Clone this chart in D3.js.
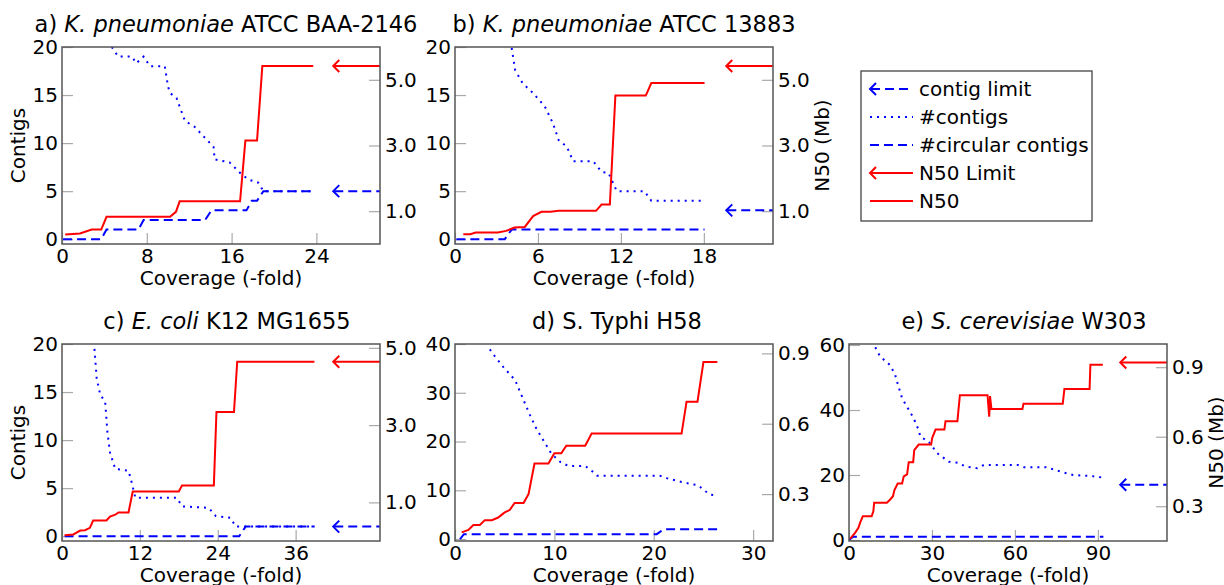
<!DOCTYPE html>
<html>
  <head>
    <title>Contigs and N50 versus coverage</title>
    <script src="https://d3js.org/d3.v7.min.js"></script>
    <style>
      body { margin: 0; background: #fff; }
      text { font-family: "DejaVu Sans", sans-serif; fill: #000; }
    </style>
  </head>
  <body>
    <svg id="chart" width="1224" height="585"></svg>
    <script>
      // [coverage, value] pairs
      let aN50 = [[0.3,0.29],[1.7,0.32],[2.8,0.44],[3.7,0.44],[4.2,0.83],[10.2,0.83],[10.75,0.98],[11.1,1.3],[16.8,1.3],[17.3,3.15],[18.4,3.15],[18.9,5.42],[23.7,5.42]];
      let aContigs = [[4.7,20],[5.3,19],[6.6,19],[7.0,18.3],[7.7,19],[8.3,18],[9.7,18],[10.0,15.9],[10.2,15.2],[10.8,14.7],[11.6,12.3],[12.5,11.7],[14.3,9.6],[14.4,8.3],[15.8,8.0],[16.8,6.9],[17.6,6.2],[18.5,5.9],[19.0,5],[23.7,5]];
      let aCircular = [[0.1,0],[3.7,0],[4.2,1],[7.2,1],[7.7,2],[13.5,2],[14.1,3],[17.4,3],[17.9,4],[18.4,4],[19.0,5],[23.7,5]];

      let bN50 = [[0.6,0.3],[1.1,0.3],[1.5,0.35],[3.1,0.35],[3.7,0.4],[4.3,0.5],[5.05,0.52],[5.65,0.85],[6.25,0.98],[6.9,0.98],[7.5,1.01],[10.2,1.01],[10.6,1.2],[11.2,1.2],[11.6,4.52],[13.8,4.52],[14.2,4.9],[18.05,4.9]];
      let bContigs = [[4.1,19.9],[4.35,17.6],[4.9,16.2],[5.65,15.2],[6.5,13.8],[7.1,12.0],[7.5,10.3],[8.1,9.6],[8.55,8.1],[10.0,8.1],[10.6,7.0],[11.1,6.9],[11.7,5],[13.7,5],[14.2,4],[18.05,4]];
      let bCircular = [[0.1,0],[3.6,0],[4.1,1],[18.05,1]];

      let cN50 = [[0.4,0.15],[1.75,0.17],[2.8,0.27],[3.55,0.28],[4.3,0.34],[4.8,0.53],[6.85,0.53],[7.4,0.63],[8.2,0.68],[8.7,0.74],[10.25,0.74],[10.9,1.28],[18.0,1.28],[18.5,1.44],[23.4,1.44],[23.8,3.34],[26.5,3.34],[27.0,4.64],[38.9,4.64]];
      let cContigs = [[5.0,19.5],[5.35,16.4],[5.9,14.7],[6.65,14.0],[7.0,10.8],[7.4,8.7],[8.2,7.0],[10.25,6.8],[10.7,5.7],[11.3,4],[17.7,4],[18.5,3.1],[22.6,2.95],[23.7,2.1],[26.0,1.9],[26.75,1],[38.9,1]];
      let cCircular = [[0.4,0],[27.3,0],[28.3,1],[38.9,1]];

      let dN50 = [[0.67,0.137],[1.35,0.147],[1.85,0.168],[2.5,0.168],[3.0,0.189],[3.7,0.189],[4.35,0.2],[5.0,0.222],[5.5,0.232],[6.0,0.262],[6.9,0.262],[7.4,0.3],[8.0,0.43],[9.4,0.43],[10.0,0.474],[10.7,0.474],[11.2,0.506],[13.1,0.506],[13.75,0.558],[22.8,0.558],[23.3,0.694],[24.4,0.694],[25.0,0.863],[26.4,0.863]];
      let dContigs = [[3.5,38.9],[4.0,37.5],[4.85,35.3],[6.05,32.6],[6.9,28.5],[7.55,25.4],[8.2,22.6],[8.9,20.2],[9.7,17.5],[10.6,15.8],[11.4,15],[13.1,15],[13.75,14],[14.3,13],[20.6,13],[21.3,12.5],[22.8,11.7],[24.5,11],[25.2,9.8],[25.7,9.1],[26.4,8.9]];
      let dCircular = [[0.5,0],[0.9,1],[20.3,1],[21.0,2],[26.4,2]];

      let eN50 = [[0.36,0.159],[2.2,0.185],[3.4,0.207],[4.0,0.228],[5.0,0.257],[8.2,0.257],[8.8,0.278],[9.1,0.315],[13.7,0.315],[14.9,0.329],[15.9,0.343],[16.4,0.369],[17.6,0.398],[19.2,0.398],[19.8,0.429],[21.0,0.437],[21.6,0.49],[23.2,0.49],[23.6,0.542],[25.2,0.566],[29.7,0.566],[30.1,0.595],[31.3,0.631],[34.5,0.631],[34.9,0.667],[39.2,0.667],[40.1,0.779],[50.1,0.779],[50.7,0.686],[51.0,0.775],[51.5,0.72],[62.7,0.72],[63.1,0.742],[77.3,0.742],[77.9,0.806],[87.0,0.806],[87.3,0.911],[91.8,0.911]];
      let eContigs = [[9.5,59.3],[11.3,56.4],[14.9,53.8],[16.7,50.8],[17.9,47.2],[19.2,43.6],[21.0,41.0],[23.4,37.4],[25.2,33.8],[25.8,31.8],[28.8,30.3],[31.9,26.7],[36.1,24.1],[39.2,23.8],[42.2,22.6],[46.4,22.1],[48.8,23.1],[61,23.1],[63.3,22.4],[71.3,22.4],[76.7,21.0],[81,20.0],[87.6,19.7],[91.8,19.2]];
      let eCircular = [[0,0],[1.5,1],[92,1]];

      // limits (null where the panel has none)
      let n50Limits = [5.42, 5.42, 4.64, null, 0.92];
      let contigLimits = [5, 3, 1, null, 17];

      let xTicks = [[0,8,16,24],[0,6,12,18],[0,12,24,36],[0,10,20,30],[0,30,60,90]];
      let leftTicks = [[0,5,10,15,20],[0,5,10,15,20],[0,5,10,15,20],[0,10,20,30,40],[0,20,40,60]];
      let rightTicks = [[1,3,5],[1,3,5],[1,3,5],[0.3,0.6,0.9],[0.3,0.6,0.9]];

      let svg = d3.select("#chart");
      let pw = 318, ph = 197;
      let blue = "#0000ff", red = "#ff0000";

      let panels = [
        { left: 62, top: 47, xMax: 30, yL: [-0.5, 20], yR: [0, 6], n50: aN50, contigs: aContigs, circ: aCircular,
          title: ["a) ", "K. pneumoniae", " ATCC BAA-2146"], titleDx: 5, leftLabel: true, rightLabel: false },
        { left: 455, top: 47, xMax: 23, yL: [-0.5, 20], yR: [0, 6], n50: bN50, contigs: bContigs, circ: bCircular,
          title: ["b) ", "K. pneumoniae", " ATCC 13883"], titleDx: 10, leftLabel: false, rightLabel: true },
        { left: 62, top: 344, xMax: 49, yL: [-0.5, 20], yR: [0, 5.1], n50: cN50, contigs: cContigs, circ: cCircular,
          title: ["c) ", "E. coli", " K12 MG1655"], titleDx: 6, leftLabel: true, rightLabel: false },
        { left: 455, top: 344, xMax: 32, yL: [-0.4, 40], yR: [0.1, 0.94], n50: dN50, contigs: dContigs, circ: dCircular,
          title: ["d) S. Typhi H58", "", ""], titleDx: 3, leftLabel: false, rightLabel: false },
        { left: 849, top: 344, xMax: 115, yL: [-0.3, 60.3], yR: [0.15, 1.0], n50: eN50, contigs: eContigs, circ: eCircular,
          title: ["e) ", "S. cerevisiae", " W303"], titleDx: 16, leftLabel: false, rightLabel: true }
      ];

      function arrow(g, x0, x1, y, color, dashed) {
        g.append("line")
          .attr("x1", x0 + 1).attr("x2", x1)
          .attr("y1", y).attr("y2", y)
          .attr("stroke", color).attr("stroke-width", 2)
          .attr("stroke-dasharray", dashed ? "9,5" : null);
        g.append("path")
          .attr("d", `M${x0 + 6},${y - 6}L${x0},${y}L${x0 + 6},${y + 6}`)
          .attr("fill", "none").attr("stroke", color).attr("stroke-width", 2);
      }

      panels.forEach((p, i) => {
        let g = svg.append("g").attr("transform", `translate(${p.left},${p.top})`);
        let x = d3.scaleLinear().domain([0, p.xMax]).range([0, pw]);
        let yL = d3.scaleLinear().domain(p.yL).range([ph, 0]);
        let yR = d3.scaleLinear().domain(p.yR).range([ph, 0]);

        g.append("clipPath").attr("id", "clip" + i)
          .append("rect").attr("width", pw).attr("height", ph);

        // axes with ticks pointing inwards
        let ax = g.append("g").attr("transform", `translate(0,${ph})`)
          .call(d3.axisBottom(x).tickValues(xTicks[i]).tickSize(-11).tickPadding(5).tickFormat(d3.format("d")));
        let al = g.append("g")
          .call(d3.axisLeft(yL).tickValues(leftTicks[i]).tickSize(-11).tickPadding(4).tickFormat(d3.format("d")));
        let ar = g.append("g").attr("transform", `translate(${pw},0)`)
          .call(d3.axisRight(yR).tickValues(rightTicks[i]).tickSize(-11).tickPadding(5).tickFormat(d3.format(".1f")));
        [ax, al, ar].forEach(a => {
          a.select(".domain").remove();
          a.selectAll(".tick line").attr("stroke", "#aaa").attr("stroke-width", 1.2);
          a.selectAll(".tick text").attr("font-size", 20).attr("font-family", "DejaVu Sans").attr("fill", "#000");
        });

        // data lines
        let lineL = d3.line().x(d => x(d[0])).y(d => yL(d[1]));
        let lineR = d3.line().x(d => x(d[0])).y(d => yR(d[1]));
        let data = g.append("g").attr("clip-path", `url(#clip${i})`);
        data.append("path").attr("d", lineL(p.circ))
          .attr("fill", "none").attr("stroke", blue).attr("stroke-width", 2).attr("stroke-dasharray", "9,5");
        data.append("path").attr("d", lineL(p.contigs))
          .attr("fill", "none").attr("stroke", blue).attr("stroke-width", 2).attr("stroke-dasharray", "2,5");
        data.append("path").attr("d", lineR(p.n50))
          .attr("fill", "none").attr("stroke", red).attr("stroke-width", 2);

        // limit arrows
        let ax0 = x(p.xMax * 0.853);
        if (n50Limits[i] !== null) arrow(g, ax0, pw, yR(n50Limits[i]), red, false);
        if (contigLimits[i] !== null) arrow(g, ax0, pw, yL(contigLimits[i]), blue, true);

        // frame
        g.append("rect").attr("width", pw).attr("height", ph)
          .attr("fill", "none").attr("stroke", "#555").attr("stroke-width", 1.5);

        // labels
        g.append("text").attr("x", pw / 2).attr("y", ph + 41)
          .attr("text-anchor", "middle").attr("font-size", 20).text("Coverage (-fold)");
        if (p.leftLabel) {
          g.append("text").attr("transform", `translate(-37,${ph / 2}) rotate(-90)`)
            .attr("text-anchor", "middle").attr("font-size", 20).text("Contigs");
        }
        if (p.rightLabel) {
          g.append("text").attr("transform", `translate(${pw + 56},${ph / 2}) rotate(-90)`)
            .attr("text-anchor", "middle").attr("font-size", 20).text("N50 (Mb)");
        }
        let t = g.append("text").attr("x", pw / 2 + p.titleDx).attr("y", -15)
          .attr("text-anchor", "middle").attr("font-size", 22.5);
        t.append("tspan").text(p.title[0]);
        if (p.title[1]) t.append("tspan").attr("font-style", "italic").text(p.title[1]);
        if (p.title[2]) t.append("tspan").text(p.title[2]);
      });

      // legend
      let legendItems = ["contig limit", "#contigs", "#circular contigs", "N50 Limit", "N50"];
      let lg = svg.append("g").attr("transform", "translate(861,71)");
      lg.append("rect").attr("width", 231).attr("height", 150)
        .attr("fill", "#fff").attr("stroke", "#444").attr("stroke-width", 1.3);
      let ly = d3.scalePoint().domain(legendItems).range([18, 130]);
      legendItems.forEach((name, k) => {
        let y = ly(name);
        if (k === 0) arrow(lg, 9, 52, y, blue, true);
        if (k === 1) lg.append("line").attr("x1", 9).attr("x2", 52).attr("y1", y).attr("y2", y)
          .attr("stroke", blue).attr("stroke-width", 2).attr("stroke-dasharray", "2,5");
        if (k === 2) lg.append("line").attr("x1", 9).attr("x2", 52).attr("y1", y).attr("y2", y)
          .attr("stroke", blue).attr("stroke-width", 2).attr("stroke-dasharray", "9,5");
        if (k === 3) arrow(lg, 9, 52, y, red, false);
        if (k === 4) lg.append("line").attr("x1", 9).attr("x2", 52).attr("y1", y).attr("y2", y)
          .attr("stroke", red).attr("stroke-width", 2);
        lg.append("text").attr("x", 58).attr("y", y + 7).attr("font-size", 20).text(name);
      });
    </script>
  </body>
</html>
